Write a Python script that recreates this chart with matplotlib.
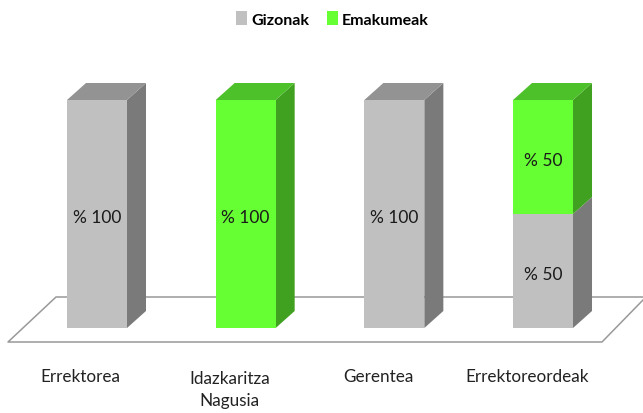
import matplotlib.pyplot as plt
from matplotlib.patches import Patch, Polygon

plt.rcParams["font.family"] = ["Lato", "DejaVu Sans"]

categories = ["Errektorea", "Idazkaritza\nNagusia", "Gerentea", "Errektoreordeak"]
gizonak = [100, 0, 100, 50]
emakumeak = [0, 100, 0, 50]

W, H = 643, 414
PX_X = 148.67  # pixels per category
PX_Y = 2.28  # pixels per percent
BAR_W = 60 / PX_X
DX = 19 / PX_X
DY = 17 / PX_Y
LABEL_SHIFT = 3 / PX_Y  # the % labels sit a little under the middle

GREY = ("#c0c0c0", "#939393", "#7a7a7a")
GREEN = ("#66ff33", "#4dc12a", "#40a020")

fig = plt.figure(figsize=(W / 100, H / 100), dpi=100)
ax = fig.add_axes([0, 0, 1, 1])
ax.set_xlim(-97 / PX_X, (W - 97) / PX_X)
ax.set_ylim(-(H - 329) / PX_Y, 329 / PX_Y)
ax.axis("off")

# floor of the 3d chart
floor_y0, floor_y1 = -14 / PX_Y, 31 / PX_Y
floor_x = -89 / PX_X
ax.plot(
    [(W + 5 - 97) / PX_X, -41 / PX_X, floor_x, 505 / PX_X, (W - 97) / PX_X],
    [floor_y1, floor_y1, floor_y0, floor_y0, 28 / PX_Y],
    color="#999999",
    lw=1.1,
    zorder=1,
)


def draw_segment(x, y0, y1, colors, top=False):
    x0, x1 = x - BAR_W / 2, x + BAR_W / 2
    ax.add_patch(
        Polygon(
            [(x1, y0), (x1 + DX, y0 + DY), (x1 + DX, y1 + DY), (x1, y1)],
            fc=colors[2],
            ec="none",
            zorder=2,
        )
    )
    ax.add_patch(
        Polygon(
            [(x0, y0), (x1, y0), (x1, y1), (x0, y1)],
            fc=colors[0],
            ec="none",
            zorder=3,
        )
    )
    if top:
        ax.add_patch(
            Polygon(
                [(x0, y1), (x1, y1), (x1 + DX, y1 + DY), (x0 + DX, y1 + DY)],
                fc=colors[1],
                ec="none",
                zorder=2,
            )
        )


for i, name in enumerate(categories):
    g, e = gizonak[i], emakumeak[i]
    if g > 0:
        draw_segment(i, 0, g, GREY, top=e == 0)
        ax.text(i, g / 2 - LABEL_SHIFT, f"% {g}", ha="center", va="center", fontsize=12.5,
                color="#1a1a1a", zorder=5)
    if e > 0:
        draw_segment(i, g, g + e, GREEN, top=True)
        ax.text(i, g + e / 2 - LABEL_SHIFT, f"% {e}", ha="center", va="center", fontsize=12.5,
                color="#1a1a1a", zorder=5)
    # two line label is centred lower so its first line stays level with the others
    label_y = 390 if "\n" in name else 377
    ax.text(i - 0.11, -(label_y - 329) / PX_Y, name, ha="center", va="center",
            fontsize=12.3, color="#222222", linespacing=1.5)

handles = [Patch(fc=GREY[0], label="Gizonak"), Patch(fc=GREEN[0], label="Emakumeak")]
fig.legend(
    handles=handles,
    loc="center",
    bbox_to_anchor=(332.5 / W, 1 - 20 / H),
    ncol=2,
    frameon=False,
    handlelength=0.7,
    handleheight=0.9,
    handletextpad=0.25,
    columnspacing=1.1,
    prop={"family": "Lato", "size": 11.5, "weight": "bold"},
)

fig.savefig("out.png", dpi=100)
